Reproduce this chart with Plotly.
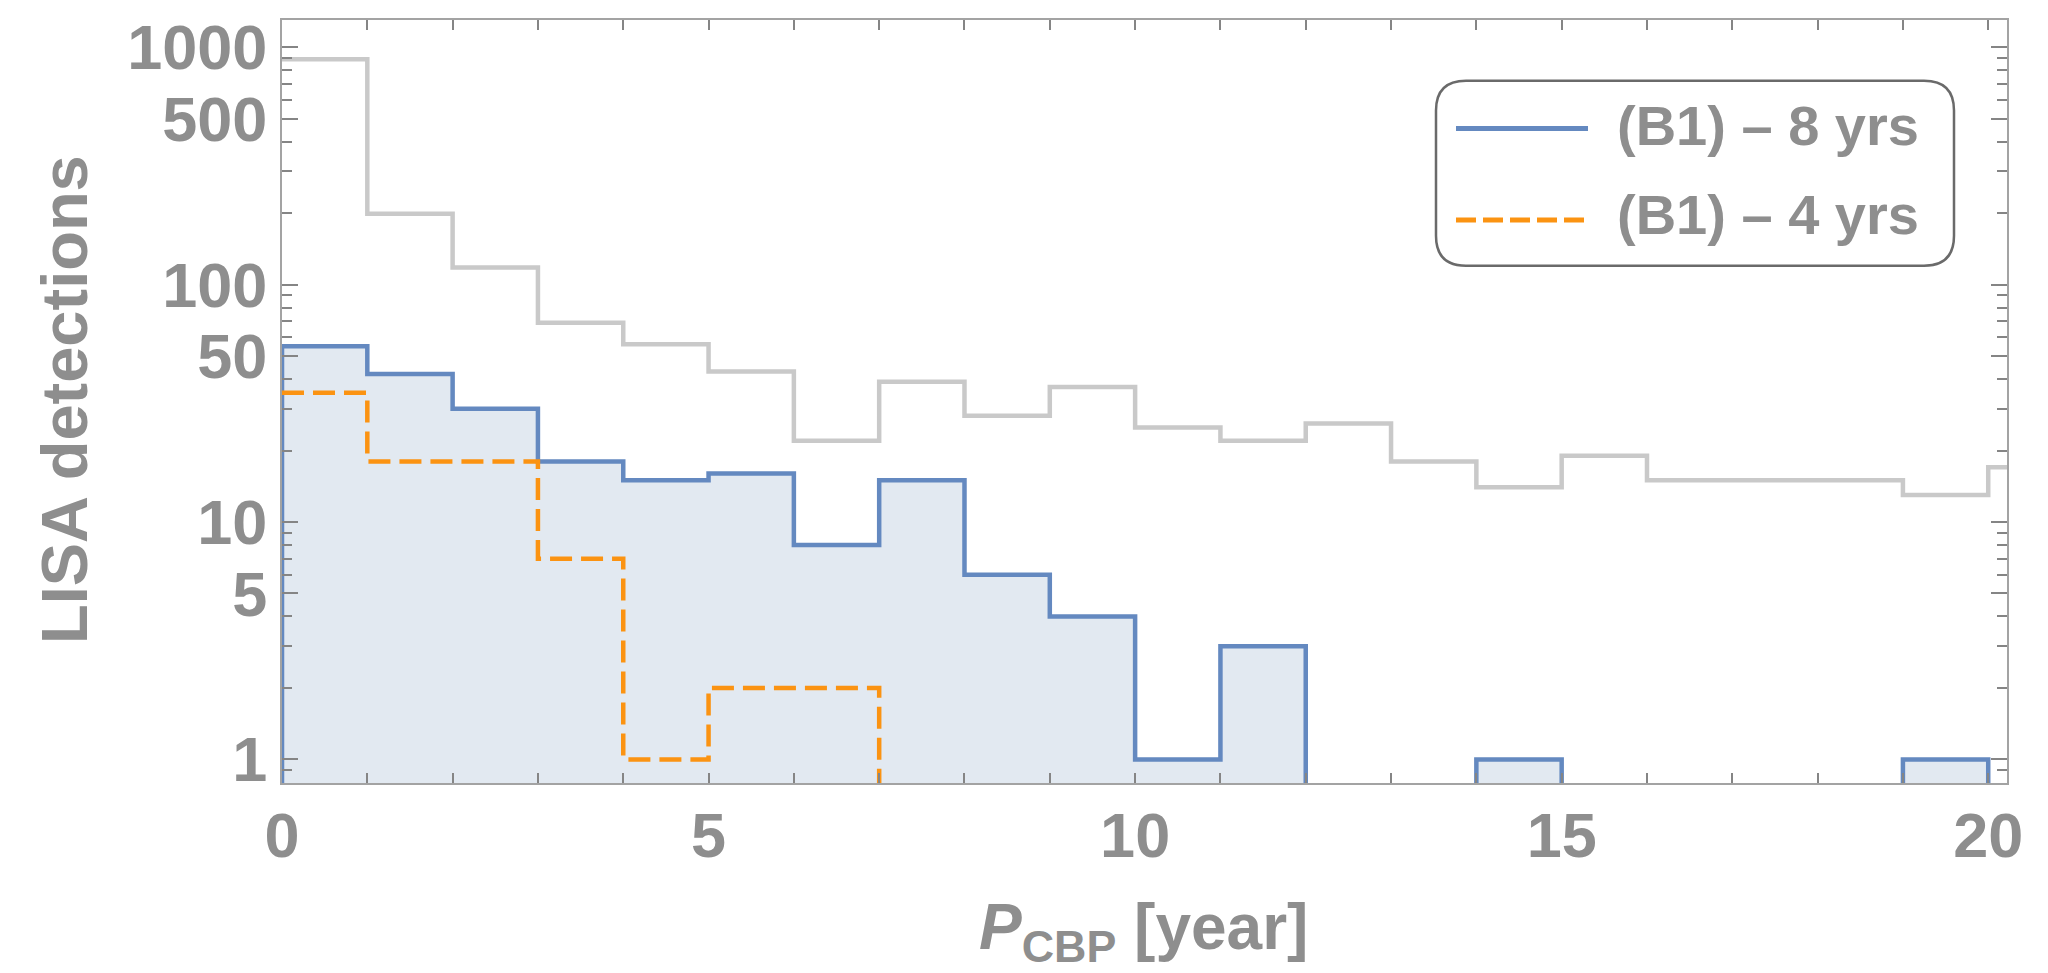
import plotly.graph_objects as go

# ---------------- data ----------------
bin_edges = list(range(0, 22))                     # 1-year bins
all_cbp = [890, 199, 118, 69, 56, 43, 22, 39, 28, 37, 25, 22, 26, 18, 14, 19, 15, 15, 15, 13, 17]
b1_8yrs = [55, 42, 30, 18, 15, 16, 8, 15, 6, 4, 1, 3, 0, 0, 1, 0, 0, 0, 0, 1]
b1_4yrs = [35, 18, 18, 7, 1, 2, 2]
legend_labels = ["(B1) – 8 yrs", "(B1) – 4 yrs"]
y_tick_vals = [1, 5, 10, 50, 100, 500, 1000]
x_tick_vals = [0, 5, 10, 15, 20]

# ---------------- style ----------------
GRAY_TXT = "#8e8e8e"
FONT = "Liberation Sans"
BLUE = "#6489c0"
BLUE_FILL = "#e2e9f1"
ORANGE = "#fb9312"
GRAY_LINE = "#c9c9c9"
FRAME = "#a3a3a3"
TICK = "#858585"
BASE = 0.3  # below visible range, stands for empty bins on the log axis

W, H = 2048, 973
L, R, T, B = 282, 41, 16, 190
PW, PH = W - L - R, H - T - B


def step(counts, lead=True):
    n = len(counts)
    xs = ([bin_edges[0]] if lead else []) + bin_edges[:n + 1]
    ys = ([BASE] if lead else []) + [c if c > 0 else BASE for c in counts] + [BASE]
    return xs, ys


fig = go.Figure()

x, y = step(all_cbp, lead=False)
fig.add_trace(go.Scatter(x=x, y=y, mode="lines", line=dict(color=GRAY_LINE, width=4.5, shape="hv"),
                         showlegend=False, hoverinfo="skip"))

x, y = step(b1_8yrs)
fig.add_trace(go.Scatter(x=x, y=y, mode="lines", fill="toself", fillcolor=BLUE_FILL,
                         line=dict(color=BLUE, width=4.5, shape="hv"),
                         name=legend_labels[0], showlegend=False))

x, y = step(b1_4yrs, lead=False)
fig.add_trace(go.Scatter(x=x, y=y, mode="lines",
                         line=dict(color=ORANGE, width=4.5, shape="hv", dash="22px,9px"),
                         name=legend_labels[1], showlegend=False))

# minor tick positions
y_minor = []
for d in [0.1, 1, 10, 100, 1000]:
    for k in range(2, 10):
        v = d * k
        if v not in y_tick_vals and 0.79 < v < 1300:
            y_minor.append(v)
x_minor = [v for v in range(0, 21) if v not in x_tick_vals]

tickfont = dict(family=FONT, size=63, color=GRAY_TXT, weight="bold")

fig.update_xaxes(range=[0, 20.22], tickvals=x_tick_vals, ticktext=[str(v) for v in x_tick_vals],
                 ticks="inside", ticklen=10, tickwidth=1.6, tickcolor=TICK,
                 showline=True, linecolor=FRAME, linewidth=2, mirror="allticks",
                 showgrid=False, zeroline=False, tickfont=tickfont, ticklabelstandoff=-4,
                 minor=dict(tickvals=x_minor, ticks="inside", ticklen=10, tickwidth=1.6,
                            tickcolor=TICK, showgrid=False))
fig.update_yaxes(type="log", range=[-0.0993, 3.1144], tickvals=y_tick_vals,
                 ticktext=[str(v) for v in y_tick_vals],
                 ticks="inside", ticklen=16, tickwidth=1.6, tickcolor=TICK,
                 showline=True, linecolor=FRAME, linewidth=2, mirror="allticks",
                 showgrid=False, zeroline=False, tickfont=tickfont,
                 minor=dict(tickvals=y_minor, ticks="inside", ticklen=10, tickwidth=1.6,
                            tickcolor=TICK, showgrid=False))


def px(xp):
    return (xp - L) / PW


def py(yp):
    return (H - B - yp) / PH


annotations = [
    dict(text="LISA detections", x=px(64), y=py(398), xref="paper", yref="paper",
         textangle=-90, showarrow=False, xanchor="center", yanchor="middle",
         font=dict(family=FONT, size=65, color=GRAY_TXT, weight="bold")),
    dict(text="<i>P</i><sub>CBP</sub> [year]", x=px(1143), y=py(932), xref="paper", yref="paper",
         showarrow=False, xanchor="center", yanchor="middle",
         font=dict(family=FONT, size=64, color=GRAY_TXT, weight="bold")),
]

# legend (drawn manually to reproduce the rounded frame and long samples)
lx0, lx1, ly0, ly1, rad = 1436, 1954, 77, 263, 30
X0, X1, Y0, Y1 = px(lx0), px(lx1), py(ly1), py(ly0)
rx, ry = rad / PW, rad / PH
path = (f"M{X0 + rx},{Y1} L{X1 - rx},{Y1} Q{X1},{Y1} {X1},{Y1 - ry} "
        f"L{X1},{Y0 + ry} Q{X1},{Y0} {X1 - rx},{Y0} "
        f"L{X0 + rx},{Y0} Q{X0},{Y0} {X0},{Y0 + ry} "
        f"L{X0},{Y1 - ry} Q{X0},{Y1} {X0 + rx},{Y1} Z")
shapes = [
    dict(type="path", path=path, xref="paper", yref="paper",
         line=dict(color="#6a6a6a", width=2.5), fillcolor="rgba(255,255,255,1)", layer="above"),
    dict(type="line", xref="paper", yref="paper", x0=px(1456), x1=px(1588), y0=py(125), y1=py(125),
         line=dict(color=BLUE, width=5), layer="above"),
    dict(type="line", xref="paper", yref="paper", x0=px(1456), x1=px(1590), y0=py(217), y1=py(217),
         line=dict(color=ORANGE, width=5, dash="20px,7px"), layer="above"),
]
for lbl, yy in zip(legend_labels, [122, 212]):
    annotations.append(dict(text=lbl, x=px(1615), y=py(yy), xref="paper", yref="paper",
                            showarrow=False, xanchor="left", yanchor="middle",
                            font=dict(family=FONT, size=56, color=GRAY_TXT, weight="bold")))

fig.update_layout(width=W, height=H, margin=dict(l=L, r=R, t=T, b=B, pad=0),
                  paper_bgcolor="white", plot_bgcolor="white",
                  annotations=annotations, shapes=shapes, showlegend=False)

fig.write_html("out.html")
